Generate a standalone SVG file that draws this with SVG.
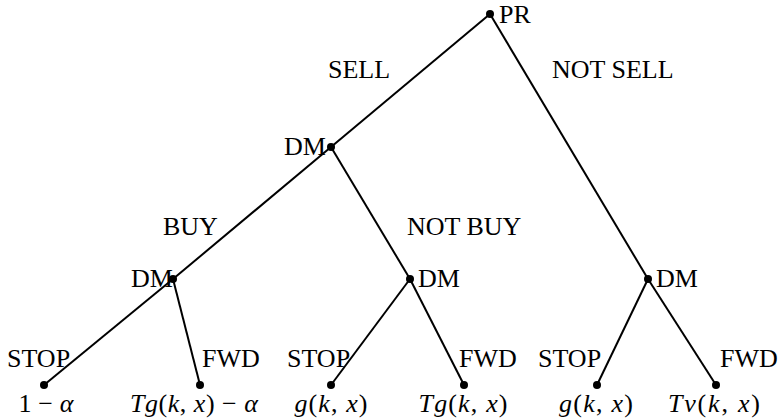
<svg xmlns="http://www.w3.org/2000/svg" width="778" height="419" viewBox="0 0 778 419" font-family="'Liberation Serif', 'Times New Roman', 'DejaVu Serif', serif" font-size="26">
<style>
.e{stroke:#000;stroke-width:2;fill:none}
.n{fill:#000}
text{font-family:'Liberation Serif','Times New Roman','DejaVu Serif',serif;font-size:26px;fill:#000}
.i{font-style:italic}
</style>
<rect width="778" height="419" fill="#fff"/>
<g id="edges">
<line class="e" x1="490" y1="14" x2="331" y2="147"/>
<line class="e" x1="490" y1="14" x2="648" y2="279"/>
<line class="e" x1="331" y1="147" x2="173" y2="279"/>
<line class="e" x1="331" y1="147" x2="410" y2="279"/>
<line class="e" x1="173" y1="279" x2="44" y2="385"/>
<line class="e" x1="173" y1="279" x2="200" y2="385"/>
<line class="e" x1="410" y1="279" x2="331" y2="385"/>
<line class="e" x1="410" y1="279" x2="464" y2="385"/>
<line class="e" x1="648" y1="279" x2="597" y2="385"/>
<line class="e" x1="648" y1="279" x2="716" y2="385"/>
</g>
<g id="edge-labels">
<text x="328" y="78">SELL</text>
<text x="552" y="78">NOT SELL</text>
<text x="163" y="235">BUY</text>
<text x="407" y="235">NOT BUY</text>
<text x="7" y="367">STOP</text>
<text x="202" y="367">FWD</text>
<text x="287" y="367">STOP</text>
<text x="459" y="367">FWD</text>
<text x="538" y="367">STOP</text>
<text x="720" y="367">FWD</text>
</g>
<g id="PR"><circle class="n" cx="490" cy="14" r="4"/><text x="499" y="23">PR</text></g>
<g id="DM1"><circle class="n" cx="331" cy="147" r="4"/><text x="326" y="155" text-anchor="end">DM</text></g>
<g id="DM2"><circle class="n" cx="173" cy="279" r="4"/><text x="173" y="287" text-anchor="end">DM</text></g>
<g id="DM3"><circle class="n" cx="410" cy="279" r="4"/><text x="418" y="287">DM</text></g>
<g id="DM4"><circle class="n" cx="648" cy="279" r="4"/><text x="656" y="287">DM</text></g>
<g id="leaf1"><circle class="n" cx="44" cy="385" r="4"/><text x="46" y="412" text-anchor="middle" textLength="55" lengthAdjust="spacing">1 − <tspan class="i">α</tspan></text></g>
<g id="leaf2"><circle class="n" cx="200" cy="385" r="4"/><text x="194" y="412" text-anchor="middle" textLength="128" lengthAdjust="spacing"><tspan class="i">Tg</tspan>(<tspan class="i">k</tspan>, <tspan class="i">x</tspan>) − <tspan class="i">α</tspan></text></g>
<g id="leaf3"><circle class="n" cx="331" cy="385" r="4"/><text x="331" y="412" text-anchor="middle" textLength="73" lengthAdjust="spacing"><tspan class="i">g</tspan>(<tspan class="i">k</tspan>, <tspan class="i">x</tspan>)</text></g>
<g id="leaf4"><circle class="n" cx="464" cy="385" r="4"/><text x="463" y="412" text-anchor="middle" textLength="89" lengthAdjust="spacing"><tspan class="i">Tg</tspan>(<tspan class="i">k</tspan>, <tspan class="i">x</tspan>)</text></g>
<g id="leaf5"><circle class="n" cx="597" cy="385" r="4"/><text x="596" y="412" text-anchor="middle" textLength="74" lengthAdjust="spacing"><tspan class="i">g</tspan>(<tspan class="i">k</tspan>, <tspan class="i">x</tspan>)</text></g>
<g id="leaf6"><circle class="n" cx="716" cy="385" r="4"/><text x="714" y="412" text-anchor="middle" textLength="92" lengthAdjust="spacing"><tspan class="i">Tv</tspan>(<tspan class="i">k</tspan>, <tspan class="i">x</tspan>)</text></g>
</svg>
